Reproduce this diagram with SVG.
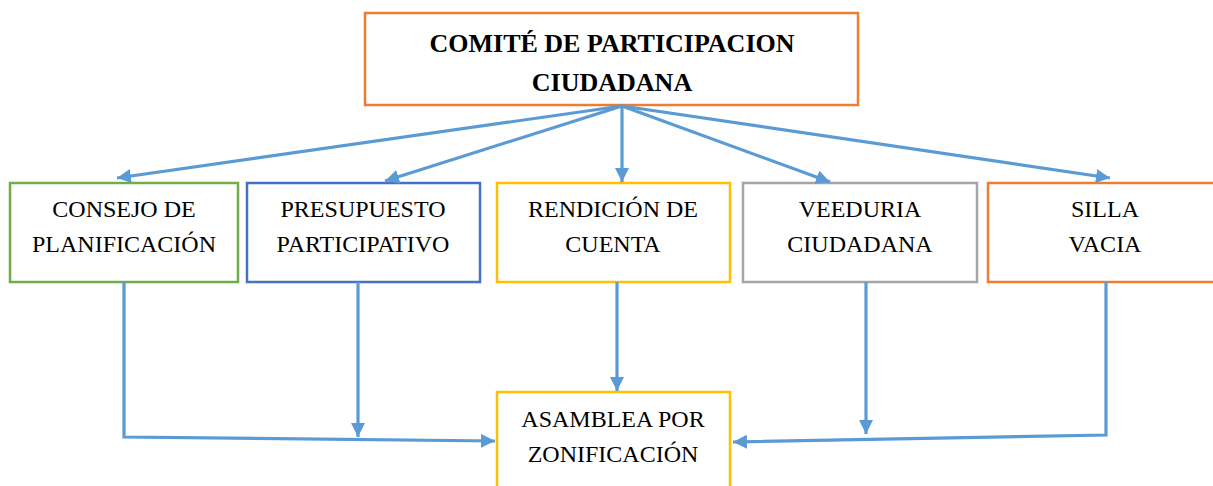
<svg xmlns="http://www.w3.org/2000/svg" width="1213" height="486" viewBox="0 0 1213 486">
<style>
.box{fill:#fff;stroke-width:2.5}
.t{font-family:"Liberation Serif","Times New Roman",serif;font-size:24px;fill:#000;text-anchor:middle}
.tb{font-family:"Liberation Serif","Times New Roman",serif;font-size:26px;font-weight:bold;fill:#000;text-anchor:middle}
.c{fill:none;stroke:#5B9BD5;stroke-width:3.2;marker-end:url(#ah)}
.cn{fill:none;stroke:#5B9BD5;stroke-width:3.2}
</style>
<defs>
<marker id="ah" markerUnits="userSpaceOnUse" viewBox="0 0 14 14" refX="14" refY="7" markerWidth="14" markerHeight="14" orient="auto">
<path d="M0,0 L14,7 L0,14 Z" fill="#5B9BD5"/>
</marker>
</defs>
<rect width="1213" height="486" fill="#fff"/>
<g id="top">
<rect class="box" x="365" y="13" width="493" height="92" stroke="#ED7D31"/>
<text class="tb" x="612" y="52">COMITÉ DE PARTICIPACION</text>
<text class="tb" x="612" y="91">CIUDADANA</text>
</g>
<g id="consejo">
<rect class="box" x="10" y="183" width="228" height="99" stroke="#70AD47"/>
<text class="t" x="124" y="217">CONSEJO DE</text>
<text class="t" x="124" y="252">PLANIFICACIÓN</text>
</g>
<g id="presupuesto">
<rect class="box" x="247" y="183" width="233" height="99" stroke="#4472C4"/>
<text class="t" x="363" y="217">PRESUPUESTO</text>
<text class="t" x="363" y="252">PARTICIPATIVO</text>
</g>
<g id="rendicion">
<rect class="box" x="497" y="183" width="233" height="99" stroke="#FFC000"/>
<text class="t" x="613" y="217">RENDICIÓN DE</text>
<text class="t" x="613" y="252">CUENTA</text>
</g>
<g id="veeduria">
<rect class="box" x="743" y="183" width="234" height="99" stroke="#A5A5A5"/>
<text class="t" x="860" y="217">VEEDURIA</text>
<text class="t" x="860" y="252">CIUDADANA</text>
</g>
<g id="silla">
<rect class="box" x="988" y="183" width="236" height="99" stroke="#ED7D31"/>
<text class="t" x="1105" y="217">SILLA</text>
<text class="t" x="1105" y="252">VACIA</text>
</g>
<g id="asamblea">
<rect class="box" x="497" y="392" width="233" height="100" stroke="#FFC000"/>
<text class="t" x="613" y="427">ASAMBLEA POR</text>
<text class="t" x="613" y="462">ZONIFICACIÓN</text>
</g>
<g id="connectors">
<line class="c" x1="622" y1="106" x2="117" y2="178"/>
<line class="c" x1="622" y1="106" x2="385" y2="181"/>
<line class="c" x1="622" y1="106" x2="622" y2="182"/>
<line class="c" x1="622" y1="106" x2="830" y2="182"/>
<line class="c" x1="622" y1="106" x2="1110" y2="178"/>
<polyline class="c" points="124,282 124,437 495,441"/>
<line class="c" x1="358" y1="282" x2="358" y2="437"/>
<line class="c" x1="617" y1="282" x2="617" y2="391"/>
<line class="c" x1="866" y1="282" x2="866" y2="434"/>
<polyline class="c" points="1106,282 1106,435 733,442"/>
</g>
</svg>
